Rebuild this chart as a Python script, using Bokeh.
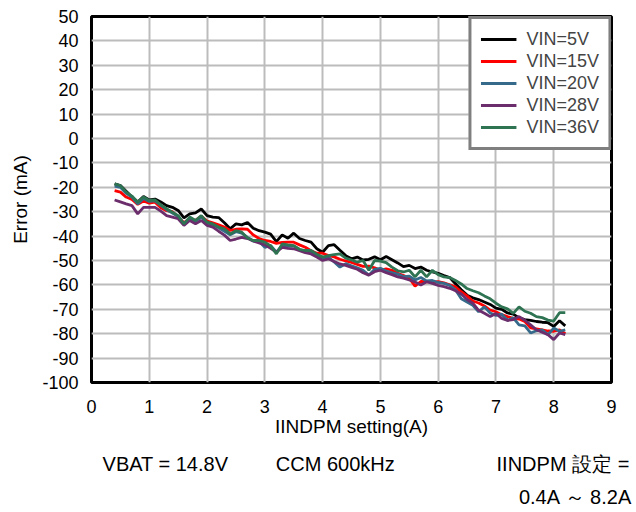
from bokeh.plotting import figure
from bokeh.models import Range1d, FixedTicker, Legend, LegendItem, LinearAxis
from bokeh.embed import file_html
from bokeh.resources import INLINE

iindpm_a = [0.4, 0.5, 0.6, 0.7, 0.8, 0.9, 1.0, 1.1, 1.2, 1.3, 1.4, 1.5, 1.6, 1.7, 1.8, 1.9,
            2.0, 2.1, 2.2, 2.3, 2.4, 2.5, 2.6, 2.7, 2.8, 2.9, 3.0, 3.1, 3.2, 3.3, 3.4, 3.5,
            3.6, 3.7, 3.8, 3.9, 4.0, 4.1, 4.2, 4.3, 4.4, 4.5, 4.6, 4.7, 4.8, 4.9, 5.0, 5.1,
            5.2, 5.3, 5.4, 5.5, 5.6, 5.7, 5.8, 5.9, 6.0, 6.1, 6.2, 6.3, 6.4, 6.5, 6.6, 6.7,
            6.8, 6.9, 7.0, 7.1, 7.2, 7.3, 7.4, 7.5, 7.6, 7.7, 7.8, 7.9, 8.0, 8.1, 8.2]

err_vin5 = [-18.6, -19.3, -21.6, -24.0, -26.0, -23.8, -25.2, -24.8, -26.0, -27.5, -28.2, -29.5,
            -32.5, -30.9, -30.5, -28.9, -31.6, -32.2, -32.4, -34.5, -37.0, -35.0, -35.4, -34.4,
            -36.8, -37.8, -38.4, -39.2, -42.3, -39.5, -40.9, -38.8, -41.0, -41.8, -42.5, -45.2,
            -46.6, -43.9, -43.5, -45.8, -48.0, -49.3, -48.6, -49.8, -49.5, -48.5, -49.7, -48.4,
            -49.7, -51.0, -52.5, -52.0, -53.3, -52.7, -54.0, -54.7, -55.3, -56.2, -57.0, -59.5,
            -62.0, -64.2, -65.3, -66.0, -67.0, -68.0, -69.5, -70.0, -71.5, -72.0, -73.5, -74.2,
            -74.5, -75.0, -75.3, -75.5, -77.0, -74.7, -76.8]

err_vin15 = [-21.4, -22.0, -24.0, -25.0, -27.0, -25.6, -26.5, -26.1, -28.4, -29.6, -30.0, -32.2,
             -34.5, -32.9, -33.6, -31.8, -33.8, -34.6, -35.4, -36.3, -37.7, -37.2, -37.0, -37.2,
             -39.5, -41.0, -41.8, -42.2, -43.0, -42.6, -42.5, -42.5, -43.6, -44.6, -46.0, -47.0,
             -47.0, -48.0, -48.5, -49.5, -50.2, -50.8, -51.6, -52.4, -52.3, -53.0, -54.0, -53.4,
             -54.0, -55.3, -56.2, -57.2, -60.5, -58.6, -58.7, -58.9, -58.7, -59.2, -60.0, -60.8,
             -62.8, -64.5, -66.6, -67.4, -68.6, -70.3, -71.0, -72.2, -73.0, -73.7, -74.0, -75.0,
             -77.6, -78.0, -78.4, -78.9, -79.0, -78.4, -80.0]

err_vin20 = [-19.5, -20.0, -22.5, -24.0, -26.8, -24.6, -25.8, -25.6, -27.4, -29.2, -30.6, -32.0,
             -35.0, -32.6, -34.0, -32.2, -34.6, -35.4, -36.6, -38.0, -39.5, -38.2, -38.8, -40.5,
             -42.0, -42.2, -44.6, -43.8, -46.6, -43.8, -44.2, -44.0, -45.6, -46.2, -46.4, -48.2,
             -49.4, -48.6, -50.6, -52.7, -51.3, -52.2, -53.0, -54.0, -56.0, -53.6, -53.2, -54.3,
             -55.0, -55.6, -56.6, -56.4, -58.0, -57.0, -58.4, -58.2, -59.0, -59.4, -60.2, -62.0,
             -65.7, -67.0, -68.4, -71.0, -69.0, -71.5, -72.5, -72.0, -74.5, -73.5, -76.4, -76.8,
             -79.7, -78.8, -78.4, -80.4, -77.7, -79.0, -78.4]

err_vin28 = [-25.2, -26.0, -26.8, -27.5, -30.9, -28.2, -28.2, -28.2, -29.8, -31.6, -32.2, -32.9,
             -35.6, -33.6, -35.0, -33.6, -35.6, -36.3, -38.0, -39.6, -41.8, -41.2, -40.5, -41.0,
             -42.0, -42.8, -43.6, -45.0, -46.6, -44.6, -45.0, -45.2, -46.0, -46.8, -47.3, -48.6,
             -50.0, -49.3, -50.4, -51.4, -52.0, -52.8, -53.6, -55.0, -56.0, -54.6, -54.0, -55.0,
             -55.8, -56.7, -57.2, -58.0, -58.8, -60.0, -58.7, -59.4, -60.2, -60.7, -61.4, -62.4,
             -63.7, -66.0, -67.5, -70.4, -71.6, -73.0, -71.7, -73.7, -74.6, -74.2, -73.0, -74.5,
             -76.4, -78.4, -79.4, -80.4, -82.4, -79.7, -80.4]

err_vin36 = [-18.6, -19.3, -22.0, -23.6, -26.1, -24.0, -25.4, -25.2, -27.2, -28.8, -30.2, -31.6,
             -35.0, -32.2, -33.6, -31.6, -34.3, -35.0, -36.3, -37.0, -39.1, -37.8, -38.4, -40.8,
             -41.8, -41.8, -42.5, -44.0, -47.3, -43.2, -43.6, -43.9, -45.4, -45.9, -45.9, -47.4,
             -48.6, -48.0, -47.6, -47.3, -49.0, -49.8, -50.7, -50.0, -54.0, -50.0, -50.3, -50.9,
             -52.7, -54.2, -54.7, -54.0, -56.7, -54.0, -56.7, -54.0, -55.8, -56.7, -57.0, -58.2,
             -59.6, -61.5, -62.4, -63.2, -64.5, -65.7, -67.5, -69.0, -69.8, -71.7, -69.0, -70.8,
             -71.6, -73.0, -73.4, -74.4, -74.8, -71.4, -71.4]

series_names = ["VIN=5V", "VIN=15V", "VIN=20V", "VIN=28V", "VIN=36V"]
series_values = [err_vin5, err_vin15, err_vin20, err_vin28, err_vin36]
series_colors = ["#000000", "#ff0000", "#356a8a", "#6b2d6b", "#2e7352"]

x_ticks = [0, 1, 2, 3, 4, 5, 6, 7, 8, 9]
y_ticks = [-100, -90, -80, -70, -60, -50, -40, -30, -20, -10, 0, 10, 20, 30, 40, 50]

# condition notes shown under the chart (text, x position in A)
note_row1 = ["VBAT = 14.8V", "CCM 600kHz", "IINDPM 設定 ="]
note_row1_x = [1.28, 4.22, 8.16]
note_row2 = ["0.4A ～ 8.2A"]
note_row2_x = [8.385]

FONT = "Liberation Sans"

p = figure(width=632, height=510, output_backend="svg", toolbar_location=None,
           x_range=Range1d(0, 9), y_range=Range1d(-100, 50),
           min_border_left=91, min_border_right=21, min_border_top=16, min_border_bottom=100)

p.outline_line_color = "black"
p.outline_line_width = 3
p.background_fill_color = "white"
p.border_fill_color = "white"


def style_axis(ax, tick_size="18px", label_size="19px"):
    ax.axis_line_color = None
    ax.major_tick_line_color = None
    ax.minor_tick_line_color = None
    ax.major_label_text_font = FONT
    ax.major_label_text_font_size = tick_size
    ax.major_label_text_color = "black"
    ax.axis_label_text_font = FONT
    ax.axis_label_text_font_size = label_size
    ax.axis_label_text_font_style = "normal"
    ax.axis_label_text_color = "black"


style_axis(p.xaxis[0])
style_axis(p.yaxis[0])

p.xaxis.ticker = FixedTicker(ticks=x_ticks)
p.yaxis.ticker = FixedTicker(ticks=y_ticks)
p.yaxis.major_label_overrides = {v: str(v) for v in y_ticks}
p.xaxis.axis_label = "IINDPM setting(A)"
p.yaxis.axis_label = "Error (mA)"
p.xaxis.major_label_standoff = 11
p.yaxis.major_label_standoff = 7
p.xaxis.axis_label_standoff = 0
p.yaxis.axis_label_standoff = 8

p.xgrid.grid_line_color = "#bcbcbc"
p.ygrid.grid_line_color = "#bcbcbc"
p.xgrid.grid_line_width = 2
p.ygrid.grid_line_width = 2

# note rows as extra label-only axes below the x axis
ax1 = LinearAxis(ticker=FixedTicker(ticks=note_row1_x),
                 major_label_overrides={xv: t for xv, t in zip(note_row1_x, note_row1)})
style_axis(ax1, tick_size="20px")
ax1.major_tick_out = 0
ax1.major_tick_in = 0
ax1.major_label_standoff = 13
p.add_layout(ax1, "below")

ax2 = LinearAxis(ticker=FixedTicker(ticks=note_row2_x),
                 major_label_overrides={xv: t for xv, t in zip(note_row2_x, note_row2)})
style_axis(ax2, tick_size="20px")
ax2.major_tick_out = 0
ax2.major_tick_in = 0
ax2.major_label_standoff = 8
p.add_layout(ax2, "below")

items = []
for name, vals, col in zip(series_names, series_values, series_colors):
    r = p.line(iindpm_a, vals, line_color=col, line_width=2.8)
    items.append(LegendItem(label=name, renderers=[r]))

legend = Legend(items=items, location="top_right", margin=0, padding=9,
                spacing=0, glyph_width=36, glyph_height=22, label_height=22,
                label_width=66, label_standoff=10,
                label_text_font=FONT, label_text_font_size="18px",
                border_line_color="black", border_line_width=3,
                background_fill_color="white", background_fill_alpha=1.0)
p.add_layout(legend, "center")

open("out.html", "w").write(file_html(p, INLINE))
